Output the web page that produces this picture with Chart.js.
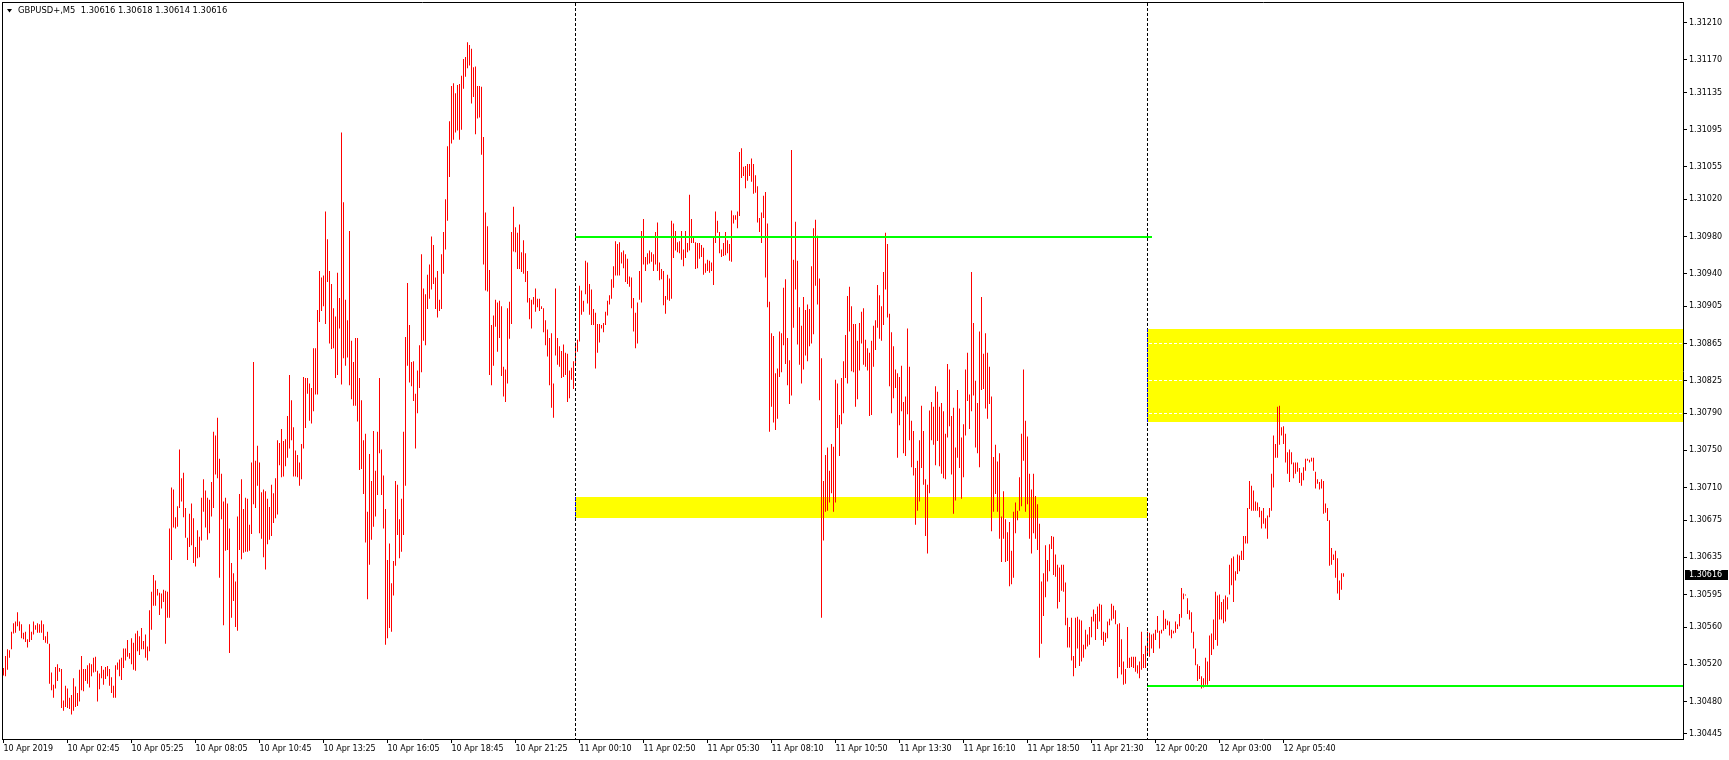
<!DOCTYPE html>
<html><head><meta charset="utf-8">
<script src="https://cdn.jsdelivr.net/npm/chart.js@4.4.1/dist/chart.umd.min.js"></script>
<style>html,body{margin:0;padding:0;background:#fff;overflow:hidden}canvas{display:block}</style>
</head><body>
<canvas id="c" width="1729" height="760"></canvas>
<script>
const symbolTitle = 'GBPUSD+,M5';
const lastOHLC = [1.30616, 1.30618, 1.30614, 1.30616];
const currentPrice = 1.30616;

const barHighs = [
1.30516,1.30529,1.30536,1.30535,1.30555,1.30564,1.30566,1.30576,1.30566,1.30563,
1.30554,1.30555,1.30547,1.30563,1.30555,1.30566,1.30562,1.30564,1.30563,1.30567,
1.30563,1.30550,1.30555,1.30542,1.30511,1.30498,1.30517,1.30520,1.30516,1.30515,
1.30481,1.30497,1.30494,1.30484,1.30487,1.30505,1.30496,1.30489,1.30514,1.30529,
1.30515,1.30515,1.30519,1.30521,1.30520,1.30527,1.30528,1.30513,1.30510,1.30518,
1.30514,1.30517,1.30518,1.30515,1.30506,1.30497,1.30519,1.30522,1.30525,1.30527,
1.30537,1.30537,1.30546,1.30532,1.30548,1.30543,1.30553,1.30556,1.30550,1.30559,
1.30545,1.30552,1.30539,1.30578,1.30598,1.30616,1.30610,1.30601,1.30597,1.30596,
1.30600,1.30599,1.30598,1.30666,1.30710,1.30708,1.30678,1.30690,1.30751,1.30720,
1.30726,1.30688,1.30656,1.30682,1.30693,1.30677,1.30646,1.30664,1.30657,1.30699,
1.30719,1.30707,1.30699,1.30697,1.30716,1.30770,1.30766,1.30785,1.30741,1.30725,
1.30695,1.30699,1.30693,1.30666,1.30629,1.30618,1.30609,1.30679,1.30703,1.30719,
1.30687,1.30699,1.30698,1.30670,1.30737,1.30845,1.30739,1.30755,1.30737,1.30705,
1.30708,1.30706,1.30698,1.30689,1.30713,1.30704,1.30720,1.30761,1.30758,1.30773,
1.30760,1.30762,1.30787,1.30831,1.30804,1.30775,1.30750,1.30745,1.30737,1.30757,
1.30829,1.30828,1.30828,1.30822,1.30817,1.30860,1.30860,1.30901,1.30943,1.30936,
1.30938,1.31007,1.30977,1.30943,1.30929,1.30903,1.30894,1.30941,1.30914,1.31092,
1.31017,1.30912,1.30890,1.30986,1.30868,1.30845,1.30871,1.30871,1.30828,1.30804,
1.30761,1.30768,1.30684,1.30746,1.30717,1.30771,1.30728,1.30770,1.30828,1.30751,
1.30723,1.30687,1.30632,1.30650,1.30607,1.30631,1.30717,1.30713,1.30676,1.30698,
1.30770,1.30872,1.30930,1.30885,1.30845,1.30846,1.30811,1.30836,1.30863,1.30961,
1.30924,1.30918,1.30939,1.30950,1.30980,1.30971,1.30936,1.30943,1.30912,1.30961,
1.30985,1.31020,1.31077,1.31104,1.31142,1.31145,1.31134,1.31143,1.31144,1.31153,
1.31171,1.31173,1.31189,1.31186,1.31182,1.31162,1.31163,1.31142,1.31142,1.31141,
1.31087,1.31006,1.30991,1.30944,1.30885,1.30895,1.30912,1.30909,1.30911,1.30905,
1.30840,1.30837,1.30903,1.30910,1.30985,1.31012,1.30990,1.30984,1.30993,1.30963,
1.30976,1.30962,1.30943,1.30914,1.30912,1.30915,1.30924,1.30913,1.30913,1.30905,
1.30903,1.30890,1.30880,1.30871,1.30876,1.30822,1.30924,1.30871,1.30862,1.30857,
1.30864,1.30855,1.30854,1.30836,1.30839,1.30846,1.30866,1.30869,1.30927,1.30922,
1.30911,1.30954,1.30952,1.30929,1.30923,1.30902,1.30898,1.30886,1.30886,1.30885,
1.30887,1.30899,1.30911,1.30917,1.30934,1.30948,1.30975,1.30972,1.30974,1.30963,
1.30965,1.30961,1.30956,1.30937,1.30936,1.30914,1.30898,1.30909,1.30943,1.30986,
1.30999,1.30958,1.30962,1.30965,1.30963,1.30961,1.30985,1.30995,1.30952,1.30945,
1.30943,1.30916,1.30939,1.30935,1.30997,1.30994,1.30986,1.30974,1.30975,1.30986,
1.30966,1.30986,1.30973,1.31025,1.30999,1.30979,1.30974,1.30973,1.30973,1.30971,
1.30968,1.30951,1.30955,1.30954,1.30952,1.30980,1.31007,1.30997,1.30985,1.30966,
1.30973,1.30985,1.30976,1.30972,1.31008,1.31003,1.31003,1.31007,1.31071,1.31075,
1.31055,1.31056,1.31058,1.31058,1.31064,1.31058,1.31046,1.31034,1.31000,1.31006,
1.31024,1.31028,1.30994,1.30910,1.30876,1.30873,1.30833,1.30838,1.30878,1.30876,
1.30925,1.30934,1.30871,1.30847,1.31073,1.30955,1.30996,1.30954,1.30904,1.30884,
1.30915,1.30901,1.30907,1.30902,1.30948,1.30989,1.30998,1.30981,1.30935,1.30849,
1.30717,1.30745,1.30753,1.30728,1.30757,1.30754,1.30826,1.30822,1.30788,1.30828,
1.30846,1.30874,1.30916,1.30926,1.30905,1.30886,1.30886,1.30868,1.30887,1.30899,
1.30903,1.30869,1.30860,1.30855,1.30868,1.30884,1.30890,1.30928,1.30917,1.30905,
1.30942,1.30984,1.30972,1.30897,1.30877,1.30862,1.30837,1.30833,1.30829,1.30841,
1.30802,1.30808,1.30881,1.30840,1.30782,1.30771,1.30731,1.30739,1.30761,1.30798,
1.30771,1.30719,1.30713,1.30793,1.30802,1.30797,1.30819,1.30813,1.30797,1.30801,
1.30792,1.30768,1.30843,1.30837,1.30787,1.30796,1.30753,1.30815,1.30795,1.30764,
1.30778,1.30837,1.30855,1.30810,1.30942,1.30887,1.30825,1.30801,1.30878,1.30915,
1.30854,1.30876,1.30855,1.30840,1.30808,1.30743,1.30756,1.30738,1.30747,1.30679,
1.30706,1.30676,1.30662,1.30673,1.30642,1.30684,1.30694,1.30685,1.30721,1.30768,
1.30837,1.30782,1.30765,1.30725,1.30708,1.30725,1.30701,1.30692,1.30671,1.30609,
1.30618,1.30648,1.30632,1.30649,1.30658,1.30657,1.30638,1.30627,1.30624,1.30627,
1.30627,1.30608,1.30570,1.30560,1.30570,1.30529,1.30570,1.30571,1.30568,1.30567,
1.30541,1.30557,1.30552,1.30560,1.30571,1.30579,1.30574,1.30582,1.30585,1.30584,
1.30555,1.30554,1.30566,1.30569,1.30585,1.30583,1.30578,1.30563,1.30564,1.30547,
1.30523,1.30515,1.30560,1.30527,1.30528,1.30528,1.30528,1.30519,1.30523,1.30555,
1.30531,1.30540,1.30555,1.30554,1.30552,1.30553,1.30557,1.30572,1.30556,1.30557,
1.30578,1.30569,1.30567,1.30566,1.30557,1.30556,1.30566,1.30563,1.30574,1.30602,
1.30596,1.30595,1.30591,1.30578,1.30576,1.30555,1.30537,1.30520,1.30518,1.30507,
1.30505,1.30527,1.30523,1.30551,1.30553,1.30568,1.30598,1.30594,1.30595,1.30587,
1.30590,1.30594,1.30592,1.30627,1.30634,1.30636,1.30620,1.30638,1.30637,1.30642,
1.30658,1.30658,1.30688,1.30717,1.30712,1.30707,1.30695,1.30694,1.30689,1.30685,
1.30688,1.30677,1.30680,1.30688,1.30725,1.30766,1.30757,1.30797,1.30798,1.30775,
1.30776,1.30768,1.30748,1.30751,1.30748,1.30737,1.30737,1.30737,1.30731,1.30726,
1.30732,1.30741,1.30741,1.30740,1.30742,1.30742,1.30727,1.30719,1.30716,1.30719,
1.30717,1.30693,1.30688,1.30675,1.30645,1.30638,1.30642,1.30634,1.30610,1.30618,
1.30618
];

const barLows = [
1.30508,1.30507,1.30514,1.30527,1.30536,1.30553,1.30554,1.30561,1.30556,1.30548,
1.30547,1.30544,1.30538,1.30544,1.30546,1.30552,1.30557,1.30554,1.30554,1.30554,
1.30546,1.30543,1.30542,1.30499,1.30492,1.30484,1.30494,1.30502,1.30512,1.30473,
1.30470,1.30474,1.30473,1.30472,1.30466,1.30470,1.30474,1.30475,1.30480,1.30492,
1.30491,1.30502,1.30499,1.30495,1.30507,1.30511,1.30512,1.30480,1.30493,1.30505,
1.30498,1.30504,1.30507,1.30497,1.30489,1.30484,1.30484,1.30514,1.30507,1.30503,
1.30516,1.30524,1.30528,1.30526,1.30520,1.30514,1.30513,1.30534,1.30530,1.30536,
1.30536,1.30527,1.30524,1.30534,1.30557,1.30583,1.30583,1.30594,1.30573,1.30580,
1.30587,1.30542,1.30570,1.30570,1.30632,1.30667,1.30666,1.30668,1.30688,1.30695,
1.30678,1.30656,1.30632,1.30646,1.30648,1.30629,1.30625,1.30634,1.30635,1.30653,
1.30684,1.30667,1.30654,1.30661,1.30679,1.30688,1.30724,1.30720,1.30613,1.30676,
1.30562,1.30642,1.30643,1.30532,1.30570,1.30588,1.30560,1.30556,1.30643,1.30633,
1.30640,1.30641,1.30641,1.30642,1.30660,1.30692,1.30688,1.30712,1.30661,1.30655,
1.30635,1.30622,1.30649,1.30654,1.30658,1.30672,1.30677,1.30681,1.30734,1.30721,
1.30722,1.30733,1.30742,1.30752,1.30761,1.30722,1.30722,1.30721,1.30712,1.30719,
1.30752,1.30774,1.30811,1.30782,1.30779,1.30792,1.30810,1.30810,1.30888,1.30900,
1.30905,1.30886,1.30931,1.30865,1.30859,1.30860,1.30828,1.30831,1.30881,1.30821,
1.30849,1.30841,1.30850,1.30820,1.30805,1.30798,1.30798,1.30781,1.30729,1.30730,
1.30703,1.30651,1.30590,1.30627,1.30654,1.30668,1.30679,1.30702,1.30747,1.30702,
1.30666,1.30541,1.30548,1.30559,1.30555,1.30594,1.30626,1.30659,1.30634,1.30641,
1.30659,1.30712,1.30841,1.30823,1.30819,1.30803,1.30752,1.30790,1.30817,1.30834,
1.30868,1.30863,1.30902,1.30913,1.30923,1.30929,1.30902,1.30893,1.30900,1.30902,
1.30940,1.30966,1.30997,1.31044,1.31080,1.31084,1.31092,1.31094,1.31084,1.31095,
1.31139,1.31152,1.31161,1.31164,1.31123,1.31130,1.31090,1.31107,1.31108,1.31068,
1.30950,1.30922,1.30921,1.30831,1.30820,1.30841,1.30883,1.30856,1.30871,1.30830,
1.30808,1.30802,1.30822,1.30870,1.30886,1.30964,1.30963,1.30945,1.30945,1.30942,
1.30940,1.30931,1.30909,1.30891,1.30881,1.30907,1.30899,1.30904,1.30900,1.30902,
1.30877,1.30863,1.30851,1.30820,1.30796,1.30785,1.30852,1.30842,1.30840,1.30828,
1.30829,1.30831,1.30802,1.30806,1.30826,1.30816,1.30843,1.30856,1.30867,1.30896,
1.30899,1.30918,1.30908,1.30896,1.30885,1.30885,1.30838,1.30855,1.30866,1.30881,
1.30877,1.30885,1.30895,1.30907,1.30913,1.30925,1.30938,1.30938,1.30938,1.30951,
1.30946,1.30931,1.30929,1.30926,1.30903,1.30878,1.30860,1.30865,1.30912,1.30909,
1.30950,1.30943,1.30950,1.30951,1.30953,1.30943,1.30950,1.30943,1.30933,1.30934,
1.30906,1.30897,1.30912,1.30911,1.30913,1.30957,1.30965,1.30963,1.30962,1.30955,
1.30948,1.30957,1.30963,1.30965,1.30973,1.30973,1.30945,1.30946,1.30956,1.30958,
1.30939,1.30941,1.30943,1.30941,1.30943,1.30928,1.30973,1.30984,1.30962,1.30958,
1.30959,1.30960,1.30962,1.30954,1.30953,1.30994,1.30998,1.30989,1.31002,1.31043,
1.31045,1.31032,1.31040,1.31045,1.31039,1.31026,1.31027,1.30995,1.30985,1.30973,
1.31000,1.30936,1.30904,1.30770,1.30797,1.30780,1.30772,1.30784,1.30829,1.30834,
1.30863,1.30843,1.30820,1.30800,1.30809,1.30882,1.30923,1.30864,1.30842,1.30822,
1.30837,1.30852,1.30846,1.30862,1.30865,1.30875,1.30927,1.30907,1.30804,1.30570,
1.30653,1.30684,1.30685,1.30694,1.30704,1.30684,1.30694,1.30774,1.30744,1.30778,
1.30790,1.30828,1.30822,1.30878,1.30835,1.30834,1.30797,1.30805,1.30836,1.30865,
1.30842,1.30840,1.30836,1.30787,1.30788,1.30840,1.30858,1.30882,1.30870,1.30868,
1.30885,1.30923,1.30893,1.30819,1.30790,1.30806,1.30817,1.30742,1.30777,1.30792,
1.30747,1.30744,1.30789,1.30761,1.30732,1.30723,1.30670,1.30685,1.30695,1.30731,
1.30713,1.30658,1.30639,1.30704,1.30761,1.30756,1.30734,1.30760,1.30733,1.30725,
1.30720,1.30719,1.30764,1.30776,1.30724,1.30682,1.30696,1.30742,1.30731,1.30698,
1.30721,1.30766,1.30803,1.30773,1.30792,1.30809,1.30753,1.30747,1.30732,1.30815,
1.30816,1.30795,1.30784,1.30800,1.30663,1.30684,1.30703,1.30684,1.30655,1.30630,
1.30655,1.30630,1.30631,1.30604,1.30606,1.30613,1.30661,1.30675,1.30685,1.30690,
1.30739,1.30684,1.30692,1.30655,1.30639,1.30661,1.30655,1.30643,1.30527,1.30542,
1.30572,1.30592,1.30609,1.30620,1.30644,1.30616,1.30614,1.30580,1.30587,1.30599,
1.30598,1.30562,1.30538,1.30538,1.30524,1.30507,1.30516,1.30537,1.30518,1.30523,
1.30527,1.30536,1.30539,1.30541,1.30549,1.30566,1.30546,1.30558,1.30566,1.30546,
1.30540,1.30544,1.30548,1.30562,1.30567,1.30569,1.30563,1.30505,1.30517,1.30509,
1.30498,1.30499,1.30516,1.30516,1.30517,1.30516,1.30512,1.30510,1.30505,1.30514,
1.30516,1.30516,1.30530,1.30528,1.30537,1.30532,1.30546,1.30554,1.30537,1.30553,
1.30556,1.30558,1.30562,1.30551,1.30548,1.30553,1.30554,1.30558,1.30561,1.30570,
1.30590,1.30594,1.30574,1.30568,1.30554,1.30537,1.30519,1.30502,1.30504,1.30494,
1.30495,1.30498,1.30498,1.30502,1.30530,1.30536,1.30546,1.30540,1.30568,1.30568,
1.30564,1.30566,1.30579,1.30595,1.30605,1.30587,1.30610,1.30617,1.30620,1.30632,
1.30632,1.30650,1.30650,1.30687,1.30685,1.30685,1.30685,1.30685,1.30678,1.30666,
1.30671,1.30666,1.30655,1.30678,1.30685,1.30710,1.30742,1.30742,1.30756,1.30766,
1.30757,1.30737,1.30725,1.30716,1.30735,1.30720,1.30725,1.30727,1.30715,1.30712,
1.30718,1.30728,1.30739,1.30737,1.30738,1.30728,1.30709,1.30714,1.30708,1.30709,
1.30682,1.30683,1.30674,1.30626,1.30627,1.30632,1.30613,1.30596,1.30589,1.30600,
1.30614
];

const xTickBars = [0,32,64,96,128,160,192,224,256,288,320,352,384,416,448,480,512,544,576,608,640];
const xTickLabels = ['10 Apr 2019','10 Apr 02:45','10 Apr 05:25','10 Apr 08:05','10 Apr 10:45','10 Apr 13:25','10 Apr 16:05','10 Apr 18:45','10 Apr 21:25','11 Apr 00:10','11 Apr 02:50','11 Apr 05:30','11 Apr 08:10','11 Apr 10:50','11 Apr 13:30','11 Apr 16:10','11 Apr 18:50','11 Apr 21:30','12 Apr 00:20','12 Apr 03:00','12 Apr 05:40'];
const yTickValues = [1.31210,1.31170,1.31135,1.31095,1.31055,1.31020,1.30980,1.30940,1.30905,1.30865,1.30825,1.30790,1.30750,1.30710,1.30675,1.30635,1.30595,1.30560,1.30520,1.30480,1.30445];

const daySeparatorBars = [286, 572];
const greenLevelPrices = [1.30980, 1.30497];
const greenLevelFromBar = [286, 572];
const greenLevelToBar = [574, null];
const zoneTops = [1.30700, 1.30881];
const zoneBottoms = [1.30677, 1.30781];
const zoneFromBar = [286, 572];
const zoneToBar = [572, null];
const dashedLevels = [1.30865, 1.30826, 1.30790];
const dashedFromBar = 572;

const FONT = "8px 'DejaVu Sans'";
const TITLE_FONT = "8.4px 'DejaVu Sans'";

function zoneRect(chart, k) {
  const {chartArea: a, scales: {x, y}} = chart;
  const x0 = Math.floor(x.getPixelForValue(zoneFromBar[k]));
  const x1 = zoneToBar[k] === null ? a.right : Math.floor(x.getPixelForValue(zoneToBar[k]));
  const y0 = Math.round(y.getPixelForValue(zoneTops[k]));
  const y1 = Math.round(y.getPixelForValue(zoneBottoms[k]));
  return {x0, x1, y0, y1};
}

const mtOverlay = {
  id: 'mtOverlay',
  beforeDatasetsDraw(chart) {
    const {ctx, chartArea: a, scales: {x, y}} = chart;
    ctx.save();
    ctx.beginPath(); ctx.rect(a.left, a.top, a.right - a.left, a.bottom - a.top); ctx.clip();
    ctx.fillStyle = '#ffff00';
    zoneTops.forEach((t, k) => {
      const r = zoneRect(chart, k);
      ctx.fillRect(r.x0, r.y0, r.x1 - r.x0, r.y1 - r.y0);
    });
    ctx.strokeStyle = '#ffffff'; ctx.lineWidth = 1; ctx.setLineDash([3, 2]);
    const dx = Math.floor(x.getPixelForValue(dashedFromBar)) + 2;
    dashedLevels.forEach(p => {
      const yy = Math.round(y.getPixelForValue(p)) + 0.5;
      ctx.beginPath(); ctx.moveTo(dx, yy); ctx.lineTo(a.right, yy); ctx.stroke();
    });
    ctx.restore();
  },
  afterDatasetsDraw(chart) {
    const {ctx, chartArea: a, scales: {x, y}} = chart;
    ctx.save();
    ctx.beginPath(); ctx.rect(a.left, a.top, a.right - a.left, a.bottom - a.top); ctx.clip();
    ctx.strokeStyle = '#00ff00'; ctx.lineWidth = 2;
    greenLevelPrices.forEach((p, k) => {
      const yy = Math.round(y.getPixelForValue(p));
      const x0 = Math.floor(x.getPixelForValue(greenLevelFromBar[k]));
      const x1 = greenLevelToBar[k] === null ? a.right : Math.floor(x.getPixelForValue(greenLevelToBar[k])) + 1;
      ctx.beginPath(); ctx.moveTo(x0, yy); ctx.lineTo(x1, yy); ctx.stroke();
    });
    ctx.lineWidth = 1; ctx.setLineDash([3, 2]);
    daySeparatorBars.forEach(b => {
      const xx = Math.floor(x.getPixelForValue(b)) + 0.5;
      ctx.strokeStyle = '#000000';
      ctx.beginPath(); ctx.moveTo(xx, a.top); ctx.lineTo(xx, a.bottom); ctx.stroke();
      zoneTops.forEach((t, k) => {
        const r = zoneRect(chart, k);
        if (xx >= r.x0 && xx < r.x1) {
          ctx.strokeStyle = '#0000ff';
          ctx.beginPath(); ctx.moveTo(xx, r.y0); ctx.lineTo(xx, r.y1); ctx.stroke();
        }
      });
    });
    ctx.restore();
  },
  afterDraw(chart) {
    const {ctx, chartArea: a, scales: {y}} = chart;
    ctx.save();
    ctx.strokeStyle = '#000'; ctx.lineWidth = 1;
    ctx.beginPath();
    ctx.moveTo(a.left, a.top - 0.5); ctx.lineTo(a.right + 1, a.top - 0.5);
    ctx.moveTo(a.left + 0.5, a.top - 1); ctx.lineTo(a.left + 0.5, a.bottom + 1);
    ctx.stroke();
    ctx.fillStyle = '#000';
    ctx.beginPath(); ctx.moveTo(7, 9); ctx.lineTo(12, 9); ctx.lineTo(9.5, 12.5); ctx.closePath(); ctx.fill();
    ctx.font = TITLE_FONT; ctx.textBaseline = 'middle'; ctx.textAlign = 'left';
    ctx.fillText(symbolTitle + '  ' + lastOHLC.map(v => v.toFixed(5)).join(' '), 18, 11);
    const py = Math.round(y.getPixelForValue(currentPrice));
    ctx.fillStyle = '#000';
    ctx.fillRect(a.right + 2, py - 5, 43, 10);
    ctx.fillStyle = '#fff';
    ctx.font = FONT;
    ctx.fillText(currentPrice.toFixed(5), a.right + 6, py);
    ctx.restore();
  }
};

new Chart(document.getElementById('c'), {
  type: 'bar',
  data: {
    datasets: [{
      data: barHighs.map((h, i) => ({x: i, y: [barLows[i], h]})),
      backgroundColor: '#ff0000',
      borderWidth: 0,
      borderSkipped: false,
      inflateAmount: 0,
      barThickness: 1,
      minBarLength: 1
    }]
  },
  options: {
    responsive: false,
    animation: false,
    devicePixelRatio: 1,
    events: [],
    layout: {padding: {left: 2, top: 3, right: 0, bottom: 0}},
    plugins: {legend: {display: false}, tooltip: {enabled: false}, title: {display: false}},
    scales: {
      x: {
        type: 'linear',
        offset: false,
        min: -0.75,
        max: 839.75,
        afterBuildTicks: s => { s.ticks = xTickBars.map(v => ({value: v})); },
        afterFit: s => { s.height = 21; s.paddingLeft = 0; s.paddingRight = 0; },
        grid: {display: true, drawOnChartArea: false, drawTicks: true, tickLength: 4, color: '#000', offset: false},
        border: {display: true, color: '#000', width: 1},
        ticks: {
          autoSkip: false, maxRotation: 0, minRotation: 0, align: 'start', padding: 1,
          color: '#000', font: {family: 'DejaVu Sans', size: 8},
          callback: v => { const k = xTickBars.indexOf(v); return k >= 0 ? xTickLabels[k] : ''; }
        }
      },
      y: {
        type: 'linear',
        position: 'right',
        min: 1.304396,
        max: 1.312312,
        afterBuildTicks: s => { s.ticks = yTickValues.map(v => ({value: v})); },
        afterFit: s => { s.width = 46; s.paddingTop = 0; s.paddingBottom = 0; },
        grid: {display: true, drawOnChartArea: false, drawTicks: true, tickLength: 4, color: '#000'},
        border: {display: true, color: '#000', width: 1},
        ticks: {
          autoSkip: false, padding: 2, color: '#000', font: {family: 'DejaVu Sans', size: 8},
          callback: v => Number(v).toFixed(5)
        }
      }
    }
  },
  plugins: [mtOverlay]
});
</script>
</body></html>
